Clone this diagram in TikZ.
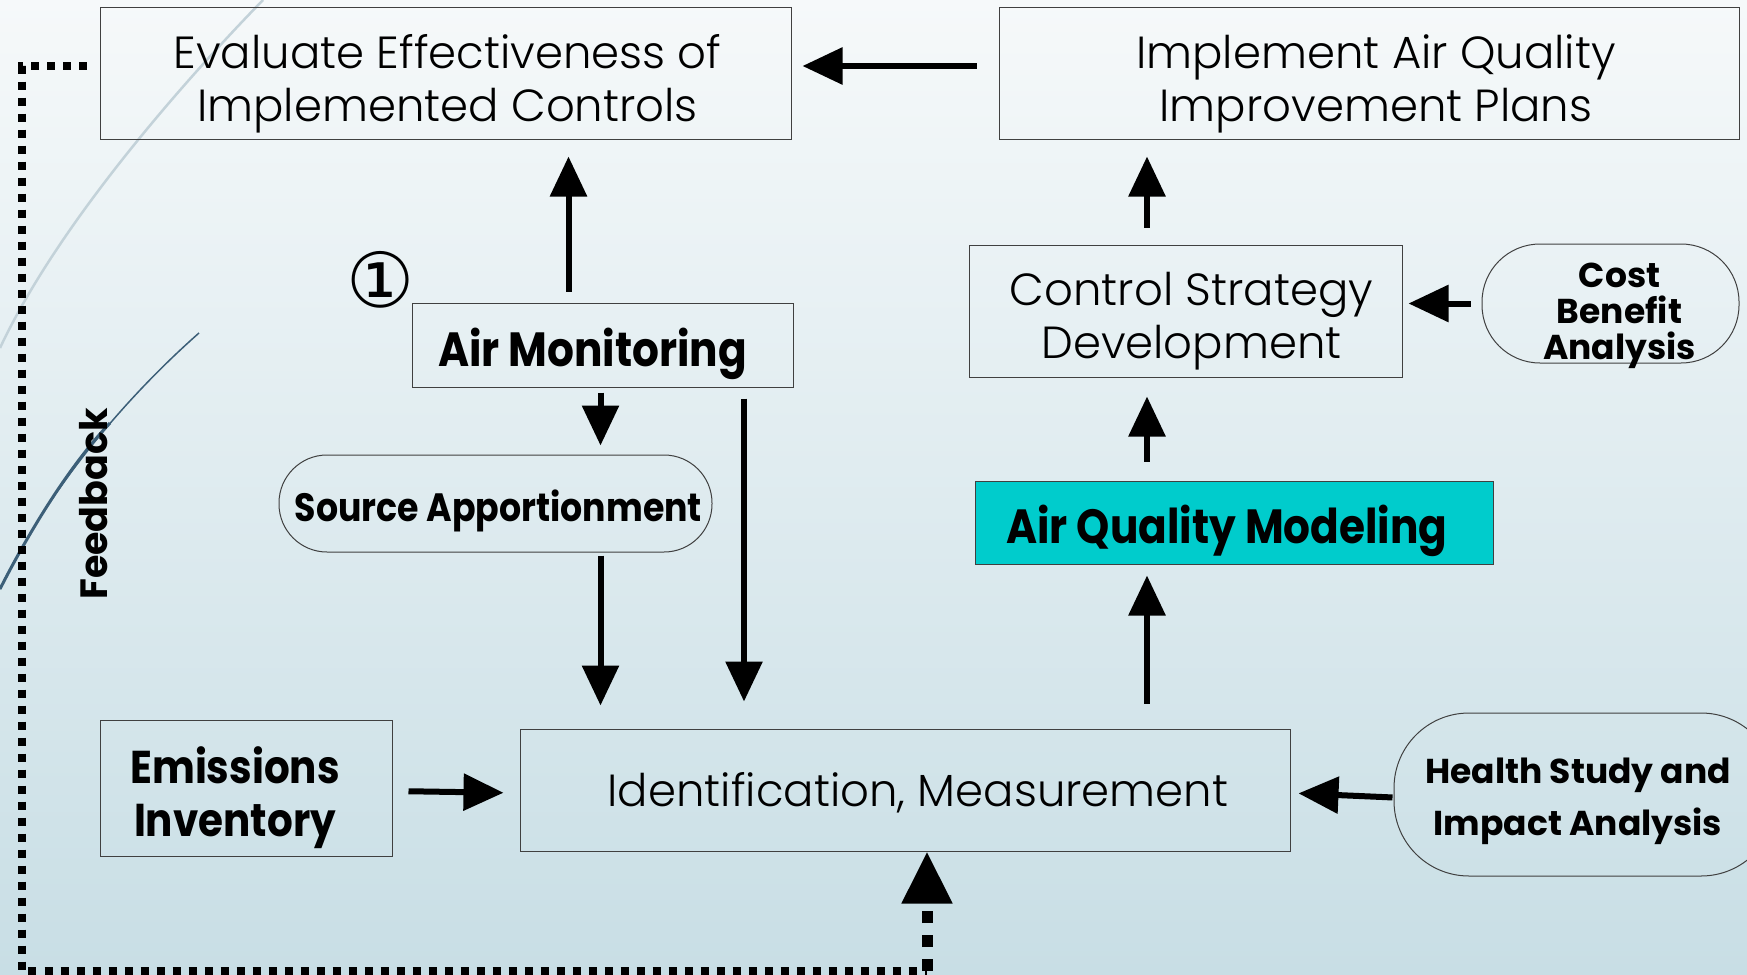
\documentclass[tikz,border=0pt]{standalone}
\usepackage{fontspec}
\setmainfont{Poppins Light}[BoldFont=Poppins Bold]
\newfontfamily\heavy{Poppins Bold}[FakeStretch=0.88]
\newfontfamily\wideheavy{Poppins Bold}
\newfontfamily\symbfont{DejaVu Sans}
\usetikzlibrary{arrows.meta}

\definecolor{slidetop}{HTML}{F6F9FA}
\definecolor{slidebottom}{HTML}{C8DEE5}
\definecolor{swooshlight}{HTML}{C3D2D9}
\definecolor{swooshdark}{HTML}{3C5F78}
\definecolor{modelteal}{HTML}{00CCCC}

\newcommand{\boxfont}{\fontsize{45}{53}\selectfont}
\newcommand{\tagfont}{\heavy\fontsize{48}{53}\selectfont}

\tikzset{
  box/.style={draw=black!75, line width=1pt, inner sep=0pt},
  pill/.style={box, rounded corners=#1},
  words/.style={inner sep=0pt, align=center},
  flow/.style={line width=6pt, -{Triangle[length=40pt,width=36pt]}},
  feedback/.style={line width=8pt, dash pattern=on 8pt off 8pt},
  feedbackarrow/.style={line width=11pt, dash pattern=on 12pt off 12pt,
    -{Triangle[length=52pt,width=48pt]}}
}

\begin{document}
\begin{tikzpicture}[x=1pt,y=-1pt]
\useasboundingbox (0,0) rectangle (1747,974);
\shade[top color=slidetop, bottom color=slidebottom] (0,0) rectangle (1747,974);

% swooshes of the slide background
\draw[swooshlight, line width=2.5pt] (263,0) .. controls (190,75) and (60,220) .. (0,348);
\draw[swooshdark, line width=1.5pt] (199,333) .. controls (140,385) and (55,475) .. (0,589);
\draw[swooshdark, line width=3pt] (110,423) .. controls (70,465) and (30,530) .. (0,589);

% frames
\node[box, minimum width=691, minimum height=131] (eval) at (445.5,73.5) {};
\node[box, minimum width=740, minimum height=131] (impl) at (1369,73.5) {};
\node[box, minimum width=381, minimum height=84] (airmon) at (602.5,345) {};
\node[pill=48pt, minimum width=433, minimum height=97] (source) at (495.5,503.5) {};
\node[box, minimum width=292, minimum height=136] (emis) at (246,788) {};
\node[box, minimum width=770, minimum height=122] (ident) at (905,790) {};
\node[box, fill=modelteal, minimum width=518, minimum height=83] (aqm) at (1234,522.5) {};
\node[box, minimum width=433, minimum height=132] (ctrl) at (1185.5,311) {};
\node[pill=58pt, minimum width=257, minimum height=119] (cost) at (1610.5,303.5) {};
\node[pill=75pt, minimum width=382, minimum height=163] (health) at (1585,794.5) {};

% texts in the frames
\node[words, font=\boxfont] (evaltext) at ([xshift=2pt,yshift=-10pt]eval)
  {Evaluate Effectiveness of\\ Implemented Controls};
\node[words, font=\boxfont] (impltext) at ([xshift=7pt,yshift=-10pt]impl)
  {Implement Air Quality\\ Improvement Plans};
\node[words, font=\tagfont] (airmontext) at ([xshift=-10pt,yshift=-9pt]airmon) {Air Monitoring};
\node[words, font=\heavy\fontsize{39.5}{40}\selectfont] (sourcetext) at ([xshift=3pt,yshift=-7pt]source)
  {Source Apportionment};
\node[words, font=\heavy\fontsize{46}{53}\selectfont] (emistext) at ([xshift=-11pt,yshift=-10pt]emis)
  {Emissions\\ Inventory};
\node[words, font=\boxfont] (identtext) at ([xshift=13pt,yshift=-3pt]ident) {Identification, Measurement};
\node[words, font=\tagfont] (aqmtext) at ([xshift=-7pt,yshift=-8pt]aqm) {Air Quality Modeling};
\node[words, font=\boxfont] (ctrltext) at ([xshift=6pt,yshift=-10pt]ctrl)
  {Control Strategy\\ Development};
\node[words, font=\wideheavy\fontsize{34.5}{36}\selectfont] (costtext) at ([xshift=9pt,yshift=-12pt]cost)
  {Cost\\ Benefit\\ Analysis};
\node[words, font=\wideheavy\fontsize{34.5}{52}\selectfont] (healthtext) at ([xshift=-7pt,yshift=-7pt]health)
  {Health Study and\\ Impact Analysis};

% loose labels
\node[font=\symbfont\fontsize{76}{76}\selectfont] (step1) at (381,280) {①};
\node[rotate=90, font=\wideheavy\fontsize{38}{38}\selectfont] (fbtext) at (94,504) {Feedback};

% column of the modelling arrows
\coordinate (mcol) at (1147,0);

% arrows
\draw[flow, shorten <=22pt, shorten >=11pt] ([yshift=7.5pt]impl.west) -- ([yshift=7.5pt]eval.east);
\draw[flow, shorten <=11pt, shorten >=17pt] ([xshift=-34pt]airmon.north) -- ([xshift=-34pt]airmon.north |- eval.south);
\draw[flow, shorten <=5pt, shorten >=9pt] ([xshift=-2pt]airmon.south) -- ([xshift=-2pt]airmon.south |- source.north);
\draw[flow, shorten <=3pt, shorten >=23pt] ([xshift=105pt]source.south) -- ([xshift=105pt]source.south |- ident.north);
\draw[flow, shorten <=11pt, shorten >=27pt] ([xshift=141.5pt]airmon.south) -- ([xshift=141.5pt]airmon.south |- ident.north);
\draw[flow, shorten <=16pt, shorten >=16pt] ([yshift=-3pt]emis.east) -- ([yshift=-3pt]ident.west);
\draw[flow, shorten <=1pt, shorten >=8pt] ([yshift=-3pt]health.west) -- ([yshift=-3pt]ident.east);
\draw[flow, shorten <=25pt, shorten >=11pt] (mcol |- ident.north) -- (mcol |- aqm.south);
\draw[flow, shorten <=19pt, shorten >=19pt] (mcol |- aqm.north) -- (mcol |- ctrl.south);
\draw[flow, shorten <=17pt, shorten >=17pt] (mcol |- ctrl.north) -- (mcol |- impl.south);
\draw[flow, shorten <=11pt, shorten >=6pt] (cost.west) -- (ctrl.east |- cost.west);

% feedback loop
\coordinate (fbcorner) at (927,971);
\draw[feedback] ([xshift=-13pt,yshift=7.5pt]eval.west) -| (22,971) -- (fbcorner);
\draw[feedbackarrow] (fbcorner) -- (ident.south -| fbcorner);
\end{tikzpicture}
\end{document}
